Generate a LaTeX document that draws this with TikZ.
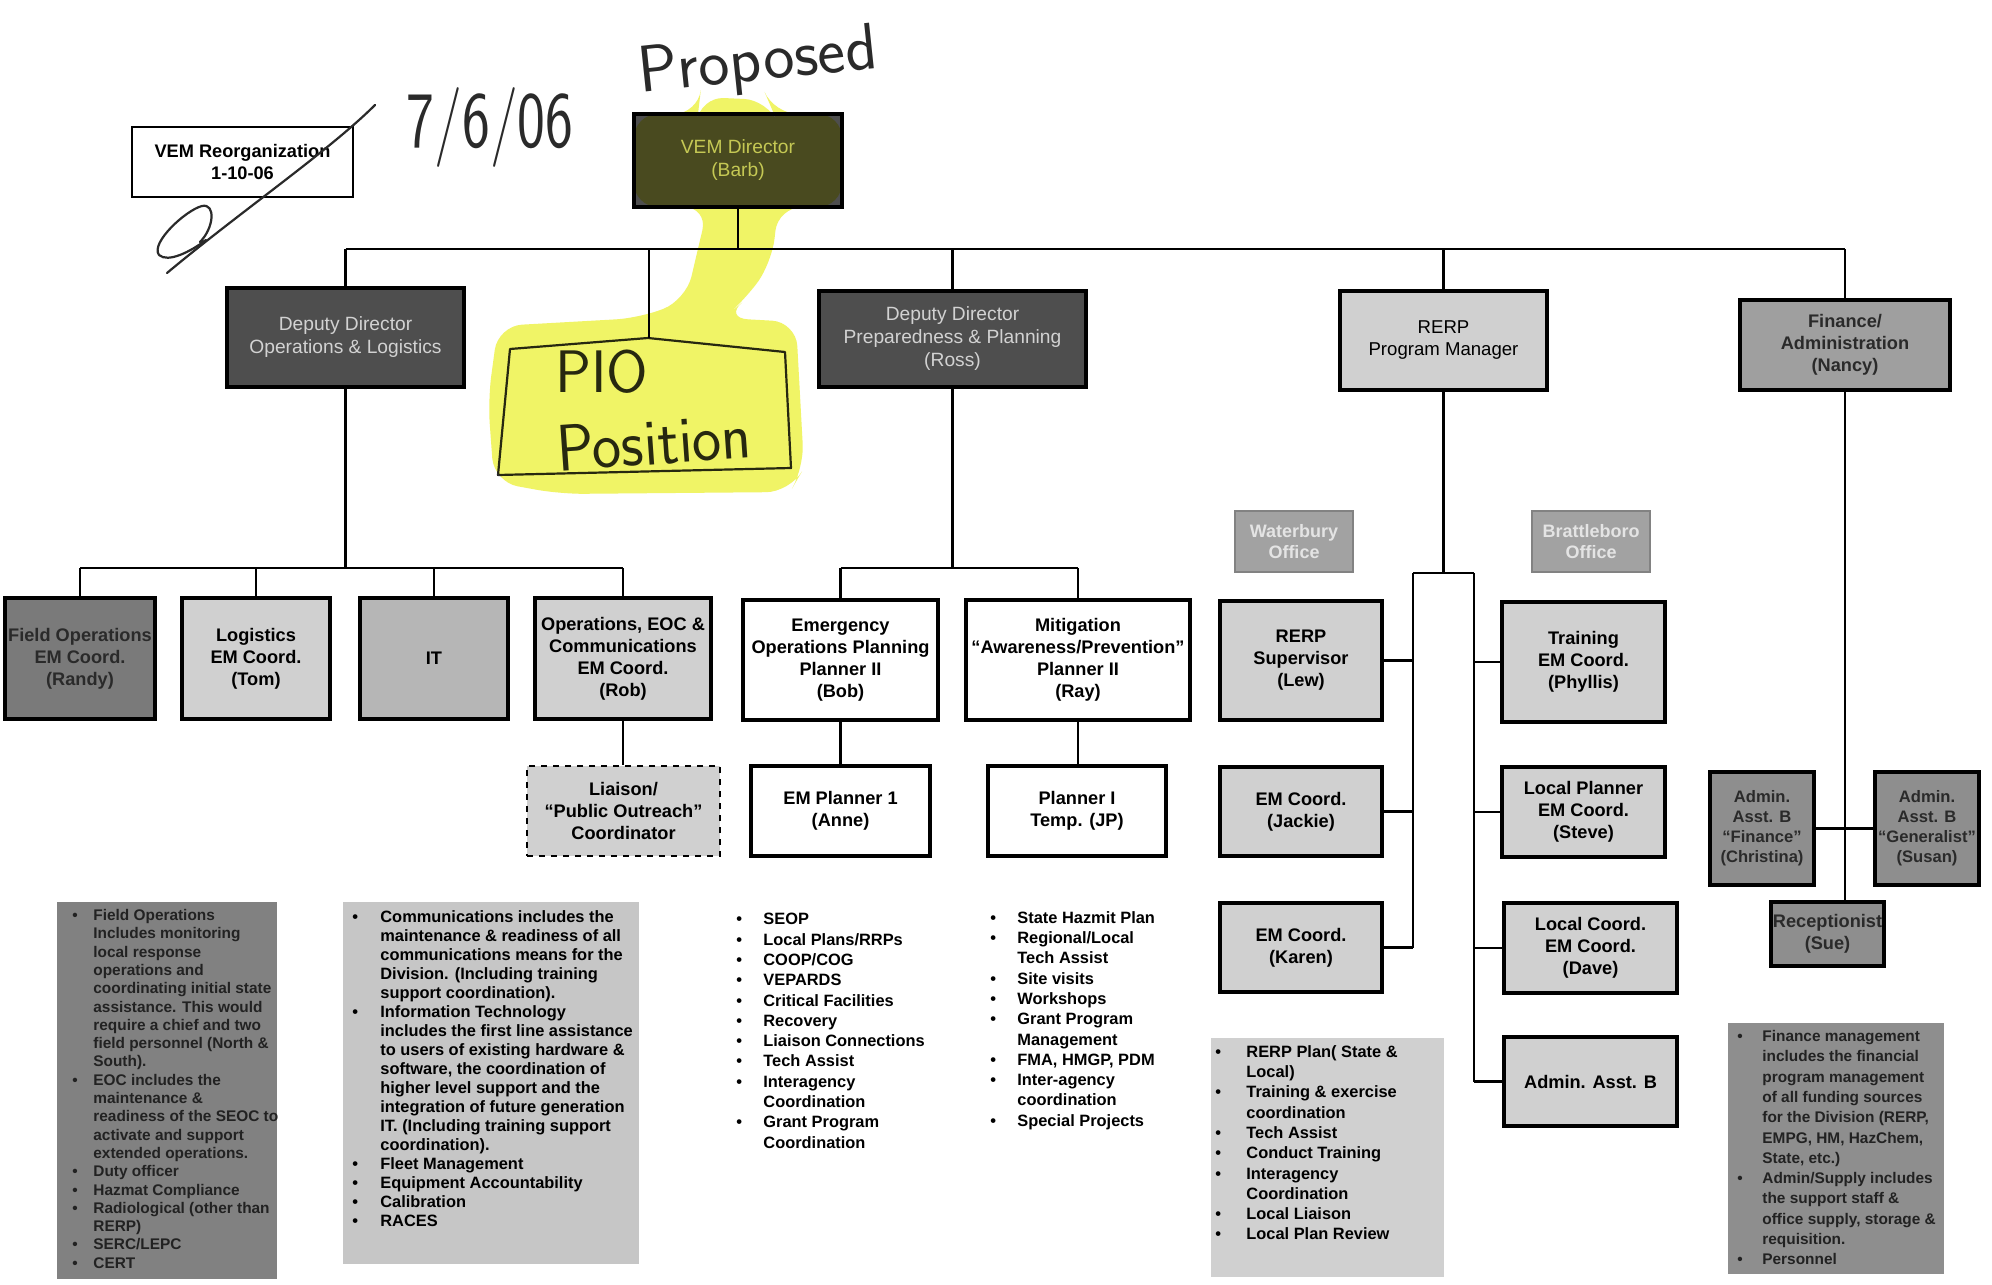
\documentclass[tikz,border=0pt]{standalone}
\usepackage{fontspec}
\setmainfont{Liberation Sans}
\usetikzlibrary{calc}
\definecolor{xdark}{HTML}{4E4E4E}
\definecolor{xtext}{HTML}{D2D2D2}
\definecolor{lgrey}{HTML}{D0D0D0}
\definecolor{mgrey}{HTML}{B6B6B6}
\definecolor{dgrey}{HTML}{8E8E8E}
\definecolor{fgrey}{HTML}{7A7A7A}
\definecolor{dtext}{HTML}{2A2A2A}
\definecolor{ptext}{HTML}{222222}
\definecolor{ogrey}{HTML}{A2A2A2}
\definecolor{otext}{HTML}{E4E4E4}
\definecolor{handc}{HTML}{2A2A2A}
\definecolor{hilite}{HTML}{F0F466}
\newlength\bw
\newcommand\bi{\makebox[\bw][l]{\textbullet}}
\newcommand\ci{\hspace*{\bw}}
\tikzset{
  conn/.style={line width=1.3pt, draw=black},
  sz/.style n args={2}{minimum width=#1pt, minimum height=#2pt},
  base/.style={draw=black, line width=1.7pt, align=center, inner sep=0pt,
    font=\fontsize{9.1}{11}\selectfont\bfseries, text=black},
  wbox/.style={base, fill=white},
  lbox/.style={base, fill=lgrey},
  mbox/.style={base, fill=mgrey},
  dbox/.style={base, fill=dgrey, text=dtext},
  xbox/.style={base, fill=xdark, text=xtext, line width=2.4pt,
    font=\fontsize{9.6}{11.5}\selectfont},
  obox/.style={base, fill=ogrey, draw=ogrey!80!black, line width=0.8pt, text=otext,
    font=\fontsize{9}{10.5}\selectfont\bfseries},
  tlist/.style={anchor=north west, align=left, inner sep=0pt, text=black,
    font=\fontsize{8.2}{10.15}\selectfont\bfseries},
  darklist/.style={tlist, text=ptext},
  hand/.style={draw=handc, line width=1.1pt, line cap=round, line join=round},
  handtext/.style={text=handc, inner sep=0pt, font=\sffamily\fontsize{40}{40}\selectfont},
}
\begin{document}
\begin{tikzpicture}[x=0.5pt,y=-0.5pt]
\useasboundingbox[fill=white] (0,0) rectangle (1992,1285);

% ---------- handwriting ----------
\node[handtext] (date) at (490,127) {\scalebox{0.74}[1]{7/6/06}};
\node[handtext, rotate=6, font=\sffamily\fontsize{33}{33}\selectfont] (proposed) at (758,64) {Proposed};

% ---------- top level ----------
\node[wbox, sz={110.5}{35}, line width=0.9pt, font=\fontsize{9.1}{11}\selectfont\bfseries] (reorg) at (242.5,162) {VEM Reorganization\\1-10-06};
\node[xbox, sz={104}{46.5}] (director) at (738,160.5) {VEM Director\\(Barb)};

% strike-out scribble over the old title box
\draw[hand] (375,105) .. controls (330,150) and (240,212) .. (167,273);
\draw[hand] (200,242) .. controls (214,228) and (216,203) .. (202,206)
  .. controls (186,210) and (150,243) .. (159,255)
  .. controls (168,263) and (190,252) .. (206,240);

\node[xbox, sz={118.5}{49.5}] (depops) at (345.5,337.5) {Deputy Director\\Operations \& Logistics};
\node[xbox, sz={133.5}{48}] (depprep) at (952.5,339) {Deputy Director\\Preparedness \& Planning\\(Ross)};
\node[lbox, sz={103.5}{49.5}, font=\fontsize{9.3}{11}\selectfont] (rerpmgr) at (1443.5,340.5) {RERP\\Program Manager};
\node[dbox, fill=dgrey!85!white, sz={105}{45}] (finance) at (1845,345) {Finance/\\Administration\\(Nancy)};

% PIO hand-drawn box
\draw[hand] (510,349) -- (648,338) -- (785,352) -- (791,468) -- (498,475) -- cycle;
\coordinate (piotop) at (649,338);
\node[handtext, font=\sffamily\fontsize{30}{30}\selectfont] (pio) at (602,372) {PIO};
\node[handtext, rotate=4, font=\sffamily\fontsize{33}{33}\selectfont] (position) at (654,442) {\scalebox{0.94}[1]{Position}};

% main bus
\coordinate (bus) at (0,249);
\draw[conn] (depops.north |- bus) -- (finance.north |- bus);
\draw[conn] (director.south) -- (director.south |- bus);
\draw[conn] (piotop) -- (piotop |- bus);
\foreach \n in {depops,depprep,rerpmgr,finance}
  \draw[conn] (\n.north) -- (\n.north |- bus);

% ---------- Operations & Logistics branch ----------
\node[dbox, fill=fgrey, sz={75}{60.5}] (fieldops) at (80,658.5) {Field Operations\\EM Coord.\\(Randy)};
\node[lbox, sz={74}{60.5}] (logistics) at (256,658.5) {Logistics\\EM Coord.\\(Tom)};
\node[mbox, sz={74}{60.5}] (it) at (434,658.5) {IT};
\node[lbox, sz={88}{60.5}] (opseoc) at (623,658.5) {Operations, EOC \&\\Communications\\EM Coord.\\(Rob)};
\node[lbox, sz={96.5}{45}, dashed, line width=1.4pt] (liaison) at (623.5,811) {Liaison/\\“Public Outreach”\\Coordinator};

\coordinate (ob) at (0,568);
\draw[conn] (fieldops.north |- ob) -- (opseoc.north |- ob);
\draw[conn] (depops.south) -- (depops.south |- ob);
\foreach \n in {fieldops,logistics,it,opseoc}
  \draw[conn] (\n.north) -- (\n.north |- ob);
\draw[conn] (opseoc.south) -- (opseoc.south |- liaison.north);

% ---------- Preparedness & Planning branch ----------
\node[wbox, sz={97.5}{60}] (bob) at (840.5,660) {Emergency\\Operations Planning\\Planner II\\(Bob)};
\node[wbox, sz={112}{60}] (ray) at (1078,660) {Mitigation\\“Awareness/Prevention”\\Planner II\\(Ray)};
\node[wbox, sz={89.5}{45}] (anne) at (840.5,811) {EM Planner 1\\(Anne)};
\node[wbox, sz={89}{45}] (jp) at (1077,811) {Planner I\\Temp. (JP)};
\coordinate (pb) at (0,568);
\draw[conn] (bob.north |- pb) -- (ray.north |- pb);
\draw[conn] (depprep.south) -- (depprep.south |- pb);
\draw[conn] (bob.north) -- (bob.north |- pb);
\draw[conn] (ray.north) -- (ray.north |- pb);
\draw[conn] (bob.south) -- (bob.south |- anne.north);
\draw[conn] (ray.south) -- (ray.south |- jp.north);

% ---------- RERP branch ----------
\node[obox, sz={59}{30.5}] (waterbury) at (1294,541.5) {Waterbury\\Office};
\node[obox, sz={59}{30.5}] (brattleboro) at (1591,541.5) {Brattleboro\\Office};
\node[lbox, sz={81}{59.5}] (lew) at (1301,660.5) {RERP\\Supervisor\\(Lew)};
\node[lbox, sz={81}{44.5}] (jackie) at (1301,811.5) {EM Coord.\\(Jackie)};
\node[lbox, sz={81}{44.5}] (karen) at (1301,947.5) {EM Coord.\\(Karen)};
\node[lbox, sz={81.5}{60}] (phyllis) at (1583.5,662) {Training\\EM Coord.\\(Phyllis)};
\node[lbox, sz={81.5}{45}] (steve) at (1583.5,812) {Local Planner\\EM Coord.\\(Steve)};
\node[lbox, sz={86.5}{45}] (dave) at (1590.5,948) {Local Coord.\\EM Coord.\\(Dave)};
\node[lbox, sz={86.5}{44.5}] (adminb) at (1590.5,1081.5) {Admin. Asst. B};
\coordinate (rl) at (1413,573);
\coordinate (rr) at (1474,573);
\draw[conn] (rerpmgr.south) -- (rerpmgr.south |- rl);
\draw[conn] (rl) -- (rr);
\draw[conn] (rl) -- (rl |- karen.east);
\draw[conn] (rr) -- (rr |- adminb.west);
\foreach \n in {lew,jackie,karen}
  \draw[conn] (\n.east) -- (\n.east -| rl);
\foreach \n in {phyllis,steve,dave,adminb}
  \draw[conn] (\n.west) -- (\n.west -| rr);

% ---------- Finance branch ----------
\node[dbox, sz={52}{56.5}, font=\fontsize{8.3}{10}\selectfont\bfseries] (christina) at (1762,828.5) {Admin.\\Asst. B\\“Finance”\\(Christina)};
\node[dbox, sz={52}{56.5}, font=\fontsize{8.3}{10}\selectfont\bfseries] (susan) at (1927,828.5) {Admin.\\Asst. B\\“Generalist”\\(Susan)};
\node[dbox, sz={56.5}{32}] (sue) at (1827.5,934) {Receptionist\\(Sue)};
\draw[conn] (finance.south) -- (finance.south |- sue.north);
\draw[conn] (christina.east) -- (susan.west);

% ---------- text panels ----------
\fill[fill=fgrey!95!white] (57,902) rectangle (277,1279);
\fill[fill=lgrey!95!black] (343,902) rectangle (639,1264);
\fill[fill=lgrey] (1211,1038) rectangle (1444,1277);
\fill[fill=dgrey] (1728,1023) rectangle (1944,1274);

\setlength\bw{10.5pt}
\node[darklist, font=\fontsize{7.7}{9.15}\selectfont\bfseries] (fieldtext) at (72,909) {%
\bi Field Operations\\
\ci Includes monitoring\\
\ci local response\\
\ci operations and\\
\ci coordinating initial state\\
\ci assistance.  This would\\
\ci require a chief and two\\
\ci field personnel (North \&\\
\ci South).\\
\bi EOC includes the\\
\ci maintenance \&\\
\ci readiness of the SEOC to\\
\ci activate and support\\
\ci extended operations.\\
\bi Duty officer\\
\bi Hazmat Compliance\\
\bi Radiological (other than\\
\ci RERP)\\
\bi SERC/LEPC\\
\bi CERT};

\setlength\bw{14pt}
\node[tlist, font=\fontsize{8.2}{9.5}\selectfont\bfseries] (commtext) at (352,910) {%
\bi Communications includes the\\
\ci maintenance \& readiness of all\\
\ci communications means for the\\
\ci Division.  (Including training\\
\ci support coordination).\\
\bi Information Technology\\
\ci includes the first line assistance\\
\ci to users of existing hardware \&\\
\ci software, the coordination of\\
\ci higher level support and the\\
\ci integration of future generation\\
\ci IT.  (Including training support\\
\ci coordination).\\
\bi Fleet Management\\
\bi Equipment Accountability\\
\bi Calibration\\
\bi RACES};

\setlength\bw{13.5pt}
\node[tlist] (plantext) at (736,913) {%
\bi SEOP\\
\bi Local Plans/RRPs\\
\bi COOP/COG\\
\bi VEPARDS\\
\bi Critical Facilities\\
\bi Recovery\\
\bi Liaison Connections\\
\bi Tech Assist\\
\bi Interagency\\
\ci Coordination\\
\bi Grant Program\\
\ci Coordination};

\setlength\bw{13.5pt}
\node[tlist] (mittext) at (990,911) {%
\bi State Hazmit Plan\\
\bi Regional/Local\\
\ci Tech Assist\\
\bi Site visits\\
\bi Workshops\\
\bi Grant Program\\
\ci Management\\
\bi FMA, HMGP, PDM\\
\bi Inter-agency\\
\ci coordination\\
\bi Special Projects};

\setlength\bw{15.5pt}
\node[tlist] (rerptext) at (1215,1045) {%
\bi RERP Plan( State \&\\
\ci Local)\\
\bi Training \& exercise\\
\ci coordination\\
\bi Tech Assist\\
\bi Conduct Training\\
\bi Interagency\\
\ci Coordination\\
\bi Local Liaison\\
\bi Local Plan Review};

\setlength\bw{12.5pt}
\node[darklist, font=\fontsize{7.7}{10.15}\selectfont\bfseries] (fintext) at (1737,1030) {%
\bi Finance management\\
\ci includes the financial\\
\ci program management\\
\ci of all funding sources\\
\ci for the Division (RERP,\\
\ci EMPG, HM, HazChem,\\
\ci State, etc.)\\
\bi Admin/Supply includes\\
\ci the support staff \&\\
\ci office supply, storage \&\\
\ci requisition.\\
\bi Personnel};

% ---------- highlighter ----------
\begin{scope}[blend mode=multiply]
\fill[hilite, rounded corners=12pt] (700,97) -- (768,100) -- (774,114) -- (842,114) -- (842,207)
  -- (778,207) -- (772,262) -- (745,300) -- (724,318) -- (796,322) -- (804,468) -- (790,492)
  -- (560,494) -- (494,482) -- (488,400) -- (498,326) -- (640,318) -- (686,300) -- (700,240)
  -- (708,207) -- (634,207) -- (634,114) -- (698,114) -- cycle;
\end{scope}
\end{tikzpicture}
\end{document}
